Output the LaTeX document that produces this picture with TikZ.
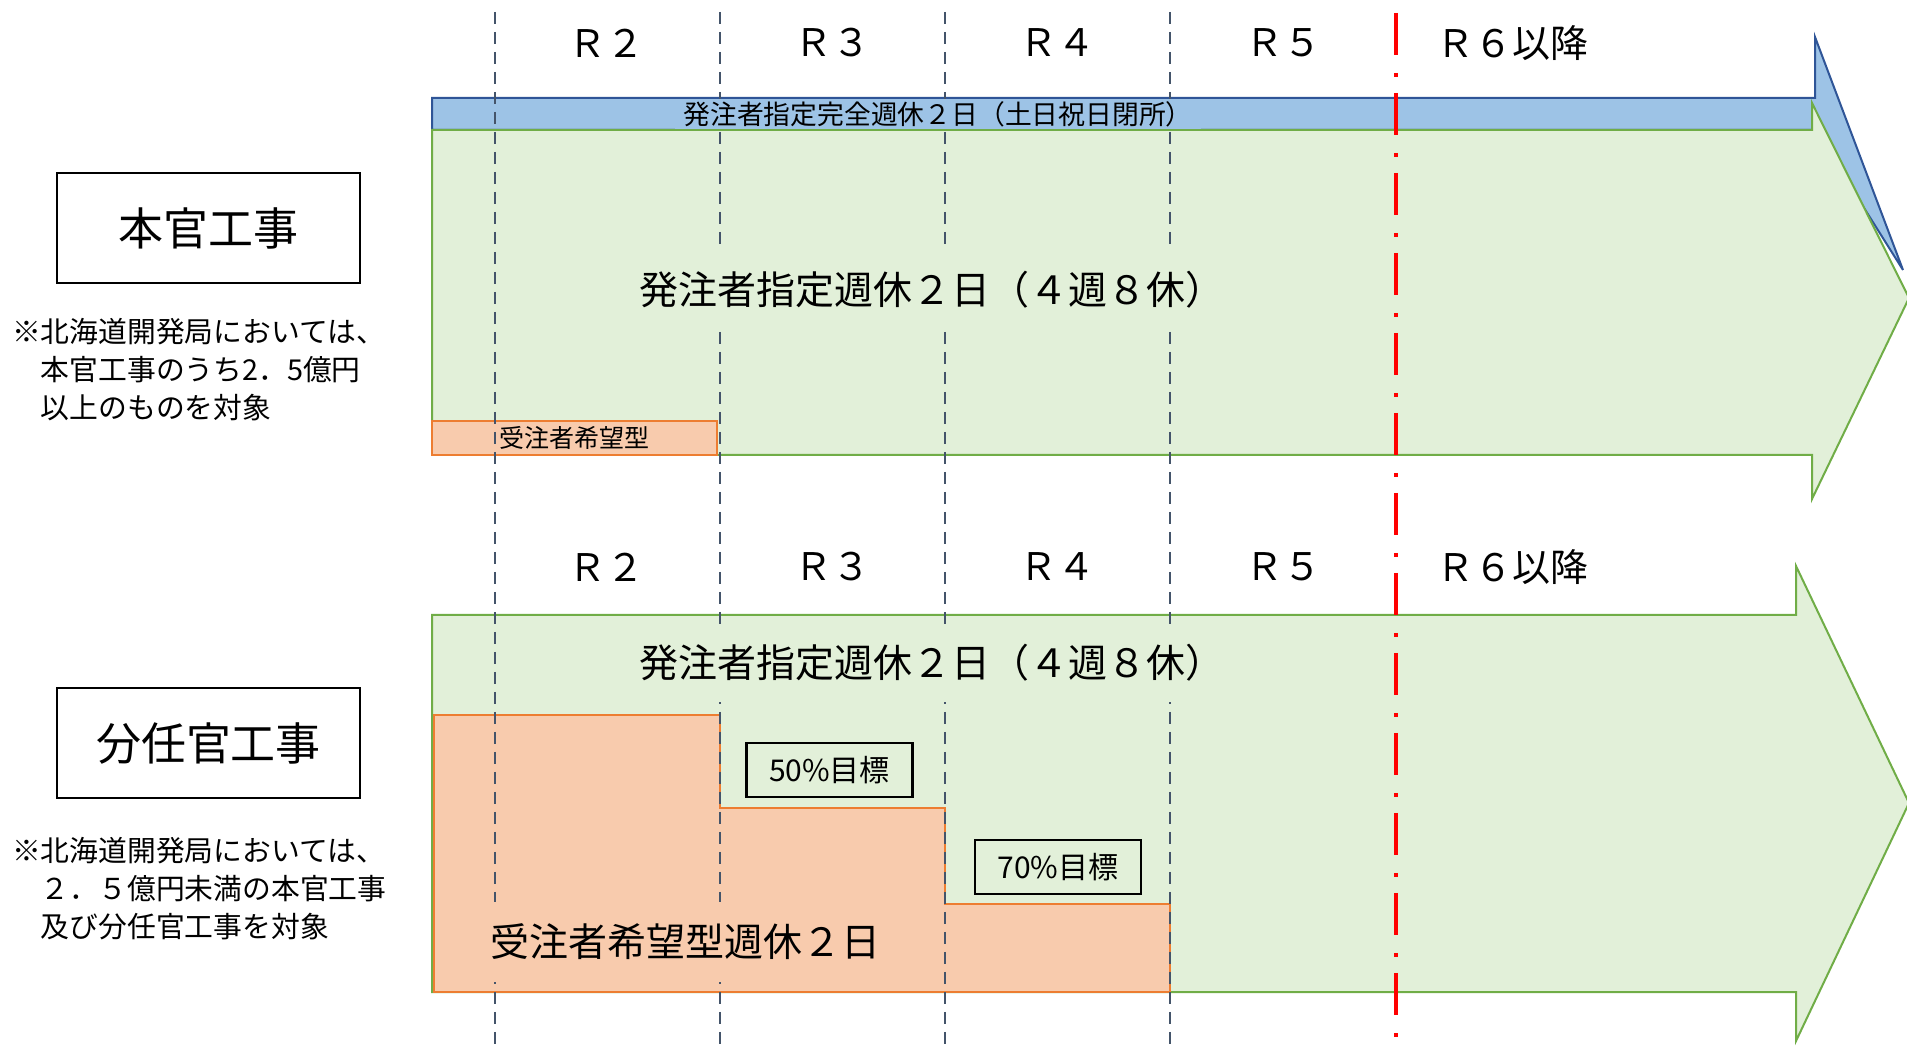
\documentclass[tikz,border=0pt]{standalone}
\usepackage{fontspec}
\setmainfont{Noto Sans CJK JP}
\definecolor{gfill}{HTML}{E2F0D9}
\definecolor{gline}{HTML}{70AD47}
\definecolor{bfill}{HTML}{9DC3E6}
\definecolor{bline}{HTML}{2F5597}
\definecolor{ofill}{HTML}{F8CBAD}
\definecolor{oline}{HTML}{ED7D31}
\definecolor{dline}{HTML}{44546A}
\begin{document}
\begin{tikzpicture}[x=0.5pt,y=-0.5pt,
  every node/.style={inner sep=0pt, outer sep=0pt},
  ylab/.style={font=\fontsize{19}{19}\selectfont},
  titlebox/.style={draw=black, line width=1pt, minimum width=151.5pt, minimum height=55pt, font=\fontsize{22.5}{22.5}\selectfont},
  notetext/.style={align=left, anchor=north west, font=\fontsize{14.4}{19}\selectfont},
  maintext/.style={fill=gfill, inner xsep=18pt, inner ysep=10pt, font=\fontsize{19.5}{19.5}\selectfont},
  goalbox/.style={draw=black, line width=1.1pt, fill=gfill, minimum width=83pt, minimum height=27pt, font=\fontsize{15}{15}\selectfont},
  gridline/.style={draw=dline, line width=1.4pt, dash pattern=on 6pt off 4pt},
  redline/.style={draw=red, line width=2.4pt, dash pattern=on 21pt off 9pt on 2pt off 8pt},
  garrow/.style={fill=gfill, draw=gline, line width=1pt},
  obox/.style={fill=ofill, draw=oline, line width=1pt},
]
\useasboundingbox (0,0) rectangle (1907,1052);

% blue arrow (mostly hidden)
\path[fill=bfill, draw=bline, line width=1pt] (432,130) -- (432,98) -- (1815,98) -- (1815,37) -- (1903,270) -- (1815,130) -- cycle;

% green arrows
\path[garrow] (432,130) -- (1812,130) -- (1812,103) -- (1909,298) -- (1812,499) -- (1812,455) -- (432,455) -- cycle;
\path[garrow] (432,615) -- (1796,615) -- (1796,566) -- (1909,803) -- (1796,1041) -- (1796,992) -- (432,992) -- cycle;

% orange shapes
\node[obox, minimum width=142.5pt, minimum height=17pt, font=\fontsize{12.5}{12.5}\selectfont] (kibou) at (574.5,438) {受注者希望型};
\path[obox] (434,715) -- (720,715) -- (720,808) -- (945,808) -- (945,904) -- (1170,904) -- (1170,992) -- (434,992) -- cycle;

% year grid lines
\foreach \x/\n in {495/a,720/b,945/c,1170/d}{
  \coordinate (\n-t) at (\x,12);
  \coordinate (\n-b) at (\x,1052);
  \draw[gridline] (\n-t) -- (\n-b);
}
\coordinate (r-t) at (1396,13);
\coordinate (r-b) at (1396,1052);
\draw[redline] (r-t) -- (r-b);

% texts on bars
\node[fill=bfill, inner xsep=4pt, inner ysep=1pt, font=\fontsize{13.4}{13.4}\selectfont] (btext) at (938,114) {発注者指定完全週休２日（土日祝日閉所）};
\node[maintext] (main1) at (932,290) {発注者指定週休２日（４週８休）};
\node[maintext] (main2) at (932,663) {発注者指定週休２日（４週８休）};
\node[fill=ofill, inner xsep=8pt, inner ysep=11pt, font=\fontsize{19.5}{19.5}\selectfont] (otext) at (685,942) {受注者希望型週休２日};
\node[goalbox] (g50) at (829.5,770) {50\%目標};
\node[goalbox] (g70) at (1058,867) {70\%目標};

% year labels
\foreach \x/\t/\n in {606/Ｒ２/2,832/Ｒ３/3,1057/Ｒ４/4,1283/Ｒ５/5,1512/Ｒ６以降/6}{
  \node[ylab] (ya\n) at (\x,43) {\t};
  \node[ylab] (yb\n) at (\x,567) {\t};
}

% left titles and notes
\node[titlebox] (hon) at (208.5,228.5) {本官工事};
\node[titlebox] (bun) at (208.5,743.5) {分任官工事};
\node[notetext] (note1) at (12,318) {※北海道開発局においては、\\　本官工事のうち2．5億円\\　以上のものを対象};
\node[notetext] (note2) at (12,837) {※北海道開発局においては、\\　２．５億円未満の本官工事\\　及び分任官工事を対象};
\end{tikzpicture}
\end{document}
